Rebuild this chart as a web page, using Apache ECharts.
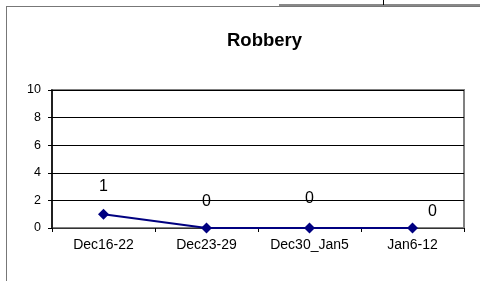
<!DOCTYPE html>
<html>
<head>
<meta charset="utf-8">
<script src="https://cdn.jsdelivr.net/npm/echarts@6/dist/echarts.min.js"></script>
<style>
  html, body { margin: 0; padding: 0; background: #fff; }
  #main { width: 480px; height: 281px; }
</style>
</head>
<body>
<div id="main"></div>
<script>
const categories = ["Dec16-22", "Dec23-29", "Dec30_Jan5", "Jan6-12"];
const robberyCounts = [1, 0, 0, 0];
const yTicks = [0, 2, 4, 6, 8, 10];

// where Excel dropped each data label, relative to the point
const labelOffsets = [[0, -28], [0, -26], [0, -29], [20, -16]];

document.addEventListener("DOMContentLoaded", function () {
  const myChart = echarts.init(document.getElementById("main"));
  const font = "Liberation Sans, Arial, sans-serif";

  const option = {
    animation: false,
    title: {
      text: "Robbery",
      left: 259.5,
      top: 26,
      textAlign: "center",
      textStyle: { fontFamily: font, fontSize: 18.5, fontWeight: "bold", color: "#000" },
    },
    grid: { left: 52, right: 16, top: 90, bottom: 53, show: true, borderColor: "#808080", borderWidth: 2, backgroundColor: "transparent" },
    xAxis: {
      type: "category",
      data: categories,
      boundaryGap: true,
      axisLine: { lineStyle: { color: "#333", width: 1 } },
      axisTick: { show: true, length: 4, lineStyle: { color: "#000" } },
      axisLabel: { fontFamily: font, fontSize: 14, color: "#000", margin: 10 },
      splitLine: { show: false },
    },
    yAxis: {
      type: "value",
      min: yTicks[0],
      max: yTicks[yTicks.length - 1],
      interval: yTicks[1] - yTicks[0],
      axisLine: { show: true, lineStyle: { color: "#000", width: 1.5 } },
      axisTick: { show: true, length: 4, lineStyle: { color: "#000" } },
      axisLabel: { fontFamily: font, fontSize: 12.5, color: "#000", margin: 11 },
      splitLine: { lineStyle: { color: "#000", width: 1 } },
    },
    graphic: [
      { type: "line", shape: { x1: 6.5, y1: 7, x2: 6.5, y2: 281 }, style: { stroke: "#777", lineWidth: 1 } },
      { type: "line", shape: { x1: 6, y1: 6.5, x2: 480, y2: 6.5 }, style: { stroke: "#777", lineWidth: 1 } },
      { type: "line", shape: { x1: 279, y1: 5, x2: 480, y2: 5 }, style: { stroke: "#888", lineWidth: 2 } },
      { type: "line", shape: { x1: 383.5, y1: 0, x2: 383.5, y2: 5 }, style: { stroke: "#000", lineWidth: 1 } },
    ],
    series: [
      {
        name: "Robbery",
        type: "line",
        data: robberyCounts.map((v, i) => ({
          value: v,
          label: { offset: labelOffsets[i] },
        })),
        symbol: "diamond",
        symbolSize: 11,
        lineStyle: { color: "#000080", width: 2 },
        itemStyle: { color: "#000080" },
        label: {
          show: true,
          position: "inside",
          fontFamily: font,
          fontSize: 16,
          color: "#000",
        },
      },
    ],
  };

  myChart.setOption(option);
});
</script>
</body>
</html>
